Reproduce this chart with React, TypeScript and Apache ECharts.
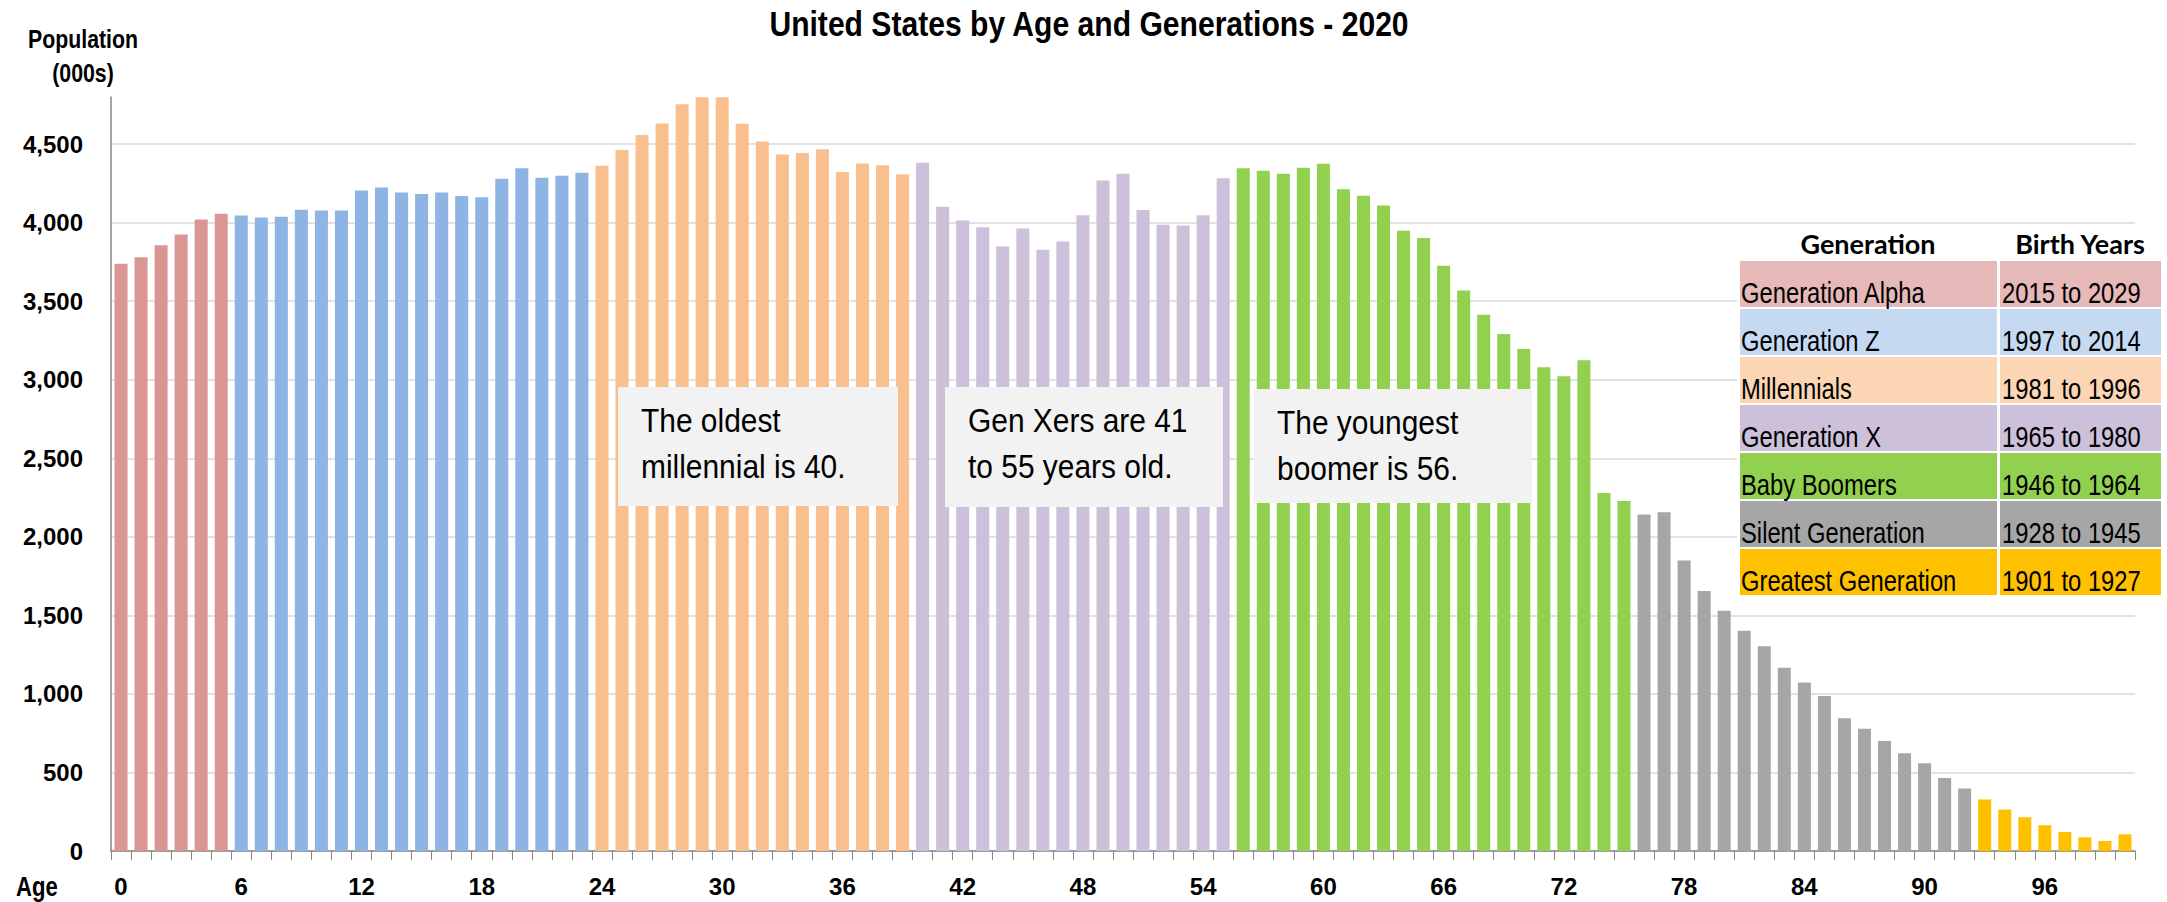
import React, { useEffect, useRef } from "react";
import * as echarts from "echarts";

const SANS = '"Liberation Sans", Arial, sans-serif';
const HEADER_FONT = 'Lato, "Open Sans", sans-serif';
const NARROW_SCALE = 0.82;

const chartTitle = "United States by Age and Generations - 2020";
const yAxisTitle = "Population\n(000s)";
const xAxisTitle = "Age";

const ages: string[] = Array.from({ length: 101 }, (_, i) => String(i));

const population: number[] = [
  3738, 3780, 3857, 3925, 4020, 4056, 4046, 4033, 4037, 4082,
  4078, 4078, 4205, 4224, 4192, 4182, 4192, 4169, 4162, 4279,
  4347, 4286, 4298, 4317, 4362, 4463, 4558, 4631, 4754, 4798,
  4798, 4630, 4517, 4434, 4443, 4468, 4322, 4377, 4366, 4309,
  4381, 4101, 4014, 3971, 3848, 3963, 3827, 3880, 4048, 4269,
  4311, 4080, 3986, 3982, 4048, 4282, 4346, 4330, 4311, 4349,
  4375, 4213, 4171, 4109, 3948, 3903, 3725, 3568, 3413, 3292,
  3196, 3080, 3022, 3124, 2279, 2228, 2142, 2157, 1850, 1655,
  1530, 1402, 1304, 1166, 1073, 987, 845, 779, 700, 623,
  558, 464, 398, 328, 264, 215, 164, 121, 87, 64,
  106,
];

const generationNames = [
  "Generation Alpha",
  "Generation Z",
  "Millennials",
  "Generation X",
  "Baby Boomers",
  "Silent Generation",
  "Greatest Generation",
];
const generationYears = [
  "2015 to 2029",
  "1997 to 2014",
  "1981 to 1996",
  "1965 to 1980",
  "1946 to 1964",
  "1928 to 1945",
  "1901 to 1927",
];
const generationFirstAge = [0, 6, 24, 40, 56, 76, 93];
const generationBarColors = ["#DA9694", "#8DB4E2", "#FABF8F", "#CCC0DA", "#92D050", "#A6A6A6", "#FFC000"];
const generationCellColors = ["#E6B8B7", "#C5D9F1", "#FCD5B4", "#CCC0DA", "#92D050", "#A6A6A6", "#FFC000"];

const annotations = [
  { text: "The oldest\nmillennial is 40.", x: 618, y: 387, w: 280, h: 119, ty: 443 },
  { text: "Gen Xers are 41\nto 55 years old.", x: 945, y: 387, w: 278, h: 120, ty: 443 },
  { text: "The youngest\nboomer is 56.", x: 1254, y: 389, w: 278, h: 114, ty: 445 },
];

function generationIndex(age: number): number {
  let g = 0;
  for (let i = 0; i < generationFirstAge.length; i++) {
    if (age >= generationFirstAge[i]) g = i;
  }
  return g;
}

function narrowText(x: number, y: number, style: any, z = 11, scale = NARROW_SCALE) {
  return {
    type: "text",
    x,
    y,
    z,
    scaleX: scale,
    scaleY: 1,
    style: { fontFamily: SANS, fill: "#000", ...style },
  };
}

export default function App() {
  const ref = useRef<HTMLDivElement>(null);

  useEffect(() => {
    document.body.style.margin = "0";
    if (!ref.current) return;
    const chart = echarts.init(ref.current, undefined, { renderer: "svg" });

    const graphics: any[] = [];
    graphics.push(
      narrowText(1089, 24, { text: chartTitle, fontWeight: "bold", fontSize: 35, align: "center", verticalAlign: "middle" }, 11, 0.86)
    );
    graphics.push(
      narrowText(83, 56, { text: yAxisTitle, fontWeight: "bold", fontSize: 26, lineHeight: 34, align: "center", verticalAlign: "middle" })
    );
    graphics.push(
      narrowText(16, 887, { text: xAxisTitle, fontWeight: "bold", fontSize: 27, align: "left", verticalAlign: "middle" })
    );

    annotations.forEach((a) => {
      graphics.push({ type: "rect", shape: { x: a.x, y: a.y, width: a.w, height: a.h }, style: { fill: "#F2F2F2" }, z: 10 });
      graphics.push(
        narrowText(a.x + 23, a.ty, { text: a.text, fontSize: 34, lineHeight: 46, align: "left", verticalAlign: "middle" }, 11, 0.88)
      );
    });

    // legend table
    const tX1 = 1740, tW1 = 257, tX2 = 2000, tW2 = 161;
    const rowTop = 261, rowH = 46, rowStep = 48;
    graphics.push({ type: "rect", shape: { x: 1737, y: 224, width: 428, height: 374 }, style: { fill: "#FFFFFF" }, z: 10 });
    graphics.push({
      type: "text", x: 1868, y: 243, z: 11,
      style: { text: "Generation", fontFamily: HEADER_FONT, fontWeight: "bold", fontSize: 27, fill: "#000", align: "center", verticalAlign: "middle" },
    });
    graphics.push({
      type: "text", x: 2080, y: 243, z: 11,
      style: { text: "Birth Years", fontFamily: HEADER_FONT, fontWeight: "bold", fontSize: 27, fill: "#000", align: "center", verticalAlign: "middle" },
    });
    generationNames.forEach((name, i) => {
      const y = rowTop + i * rowStep;
      graphics.push({ type: "rect", shape: { x: tX1, y, width: tW1, height: rowH }, style: { fill: generationCellColors[i] }, z: 10 });
      graphics.push({ type: "rect", shape: { x: tX2, y, width: tW2, height: rowH }, style: { fill: generationCellColors[i] }, z: 10 });
      graphics.push(narrowText(tX1 + 1, y + 32, { text: name, fontSize: 29, align: "left", verticalAlign: "middle" }));
      graphics.push(narrowText(tX2 + 2, y + 32, { text: generationYears[i], fontSize: 29, align: "left", verticalAlign: "middle" }));
    });

    chart.setOption({
      animation: false,
      backgroundColor: "#FFFFFF",
      grid: { left: 111, right: 32, top: 97, bottom: 51, containLabel: false },
      xAxis: {
        type: "category",
        data: ages,
        boundaryGap: true,
        axisLine: { show: true, lineStyle: { color: "#868686", width: 1.5 } },
        axisTick: { show: true, interval: 0, length: 9, lineStyle: { color: "#868686", width: 1 } },
        axisLabel: {
          interval: (index: number) => index % 6 === 0,
          margin: 23,
          fontFamily: SANS,
          fontWeight: "bold",
          fontSize: 24,
          color: "#000",
        },
        splitLine: { show: false },
      },
      yAxis: {
        type: "value",
        min: 0,
        max: 4800,
        interval: 500,
        axisLine: { show: true, lineStyle: { color: "#868686", width: 1.5 } },
        axisTick: { show: false },
        axisLabel: {
          margin: 28,
          showMaxLabel: false,
          fontFamily: SANS,
          fontWeight: "bold",
          fontSize: 24,
          color: "#000",
          formatter: (v: number) => (v % 500 === 0 ? v.toLocaleString("en-US") : ""),
        },
        splitLine: { show: true, showMaxLine: false, lineStyle: { color: "#D9D9D9", width: 1.5 } },
      },
      series: [
        {
          type: "bar",
          barCategoryGap: "35%",
          data: population.map((v, i) => ({
            value: v,
            itemStyle: { color: generationBarColors[generationIndex(i)] },
          })),
        },
      ],
      graphic: graphics,
    });

    return () => chart.dispose();
  }, []);

  return <div ref={ref} style={{ width: 2167, height: 902 }} />;
}
